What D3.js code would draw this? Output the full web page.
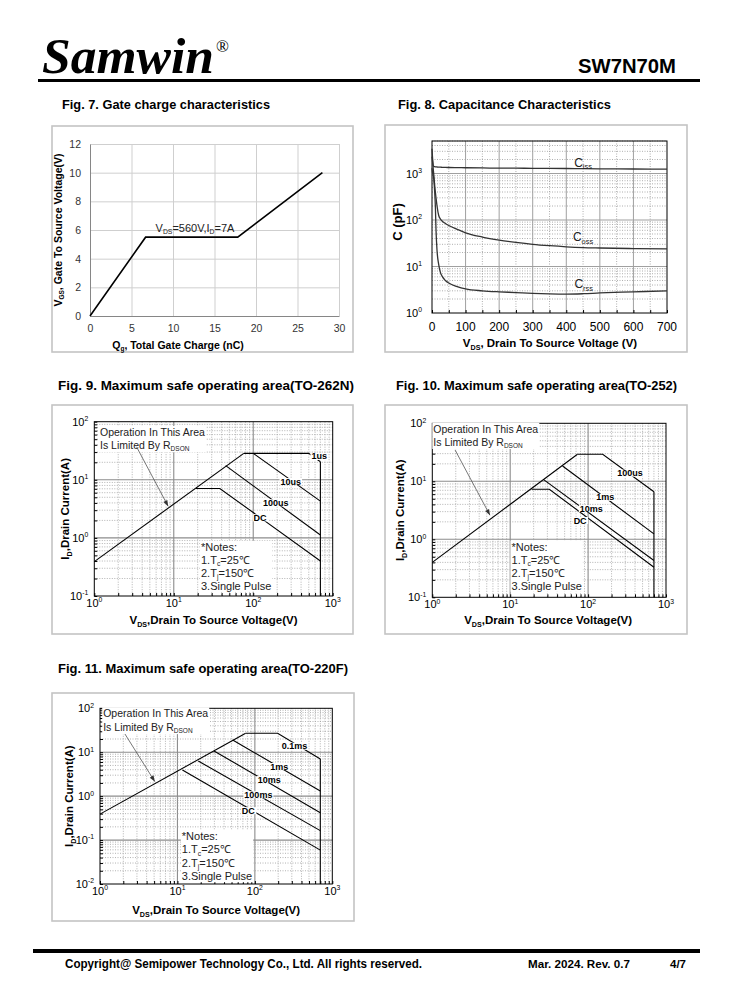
<!DOCTYPE html>
<html>
<head>
<meta charset="utf-8">
<script src="https://cdn.jsdelivr.net/npm/d3@7"></script>
<style>
  body { margin: 0; background: #fff; }
  text { font-family: "Liberation Sans", Arial, sans-serif; }
</style>
</head>
<body>
<script>
// ---- data ----
// Fig 7 gate charge
let qg = [0, 6.7, 17.8, 28];
let vgs = [0, 5.5, 5.5, 10];

// Fig 8 capacitance
let capV = [0, 2, 5, 8, 10, 12, 15, 20, 25, 30, 40, 50, 75, 100, 150, 200, 250, 300, 350, 400, 450, 500, 600, 700];
let ciss = [3400, 2000, 1420, 1400, 1390, 1385, 1380, 1370, 1365, 1360, 1350, 1345, 1335, 1330, 1315, 1305, 1300, 1295, 1290, 1280, 1270, 1260, 1250, 1240];
let coss = [2300, 1700, 1000, 550, 400, 300, 200, 125, 105, 95, 84, 76, 63, 53, 43, 37, 33, 30, 28, 26.5, 25.5, 25, 24.3, 24];
let crss = [1300, 1000, 800, 400, 200, 60, 22, 11, 7.5, 6.2, 5.0, 4.4, 3.7, 3.3, 3.0, 2.85, 2.75, 2.65, 2.58, 2.55, 2.6, 2.7, 2.85, 3.0];

// Fig 9 SOA TO-262N  [VDS, ID]
let f9Rdson = [[1, 0.39], [76, 28.5]];
let f9us1 = [[76, 28.5], [500, 28.5], [700, 20.5]];
let f9us10 = [[100, 28.5], [700, 4.3]];
let f9us100 = [[45, 17.5], [700, 1.12]];
let f9dc = [[19, 7.1], [38, 7.1], [700, 0.4]];
let f9vdss = [[700, 20.5], [700, 0.1]];

// Fig 10 SOA TO-252
let f10Rdson = [[1, 0.40], [73, 29.3]];
let f10us100 = [[73, 29.3], [154, 29.3], [700, 6.6]];
let f10ms1 = [[47, 18.4], [700, 1.24]];
let f10ms10 = [[26.6, 10.8], [700, 0.43]];
let f10dc = [[18.8, 7.3], [31.8, 7.3], [700, 0.33]];
let f10vdss = [[700, 6.6], [700, 0.1]];

// Fig 11 SOA TO-220F
let f11Rdson = [[1, 0.39], [76, 27]];
let f11ms01 = [[76, 27], [197, 27], [700, 7.0]];
let f11ms1 = [[51.7, 19], [700, 1.31]];
let f11ms10 = [[29.7, 10.7], [700, 0.42]];
let f11ms100 = [[18.6, 6.3], [700, 0.164]];
let f11dc = [[11.6, 3.95], [700, 0.059]];
let f11vdss = [[700, 7.0], [700, 0.01]];

// ---- page ----
var svg = d3.select("body").append("svg").attr("width", 738).attr("height", 1000);
svg.append("rect").attr("width", 738).attr("height", 1000).attr("fill", "#fff");

// text with sub / sup parts
function rich(t, parts, fs) {
    var shift = 0;
    parts.forEach(function (p) {
        var k = p[1], target = k === "sub" ? fs * 0.22 : (k === "sup" ? -fs * 0.42 : 0);
        var sp = t.append("tspan").text(p[0]).attr("dy", target - shift);
        if (k) sp.attr("font-size", fs * 0.62);
        shift = target;
    });
    return t;
}
function fitText(x, y, str, len, size, anchor) {
    return svg.append("text").attr("x", x).attr("y", y).attr("font-size", size).attr("font-weight", "bold")
        .attr("text-anchor", anchor || "start").attr("textLength", len).attr("lengthAdjust", "spacingAndGlyphs").text(str);
}
function box(x, y, w, h) {
    svg.append("rect").attr("x", x).attr("y", y).attr("width", w).attr("height", h)
        .attr("fill", "none").attr("stroke", "#c4c4c4").attr("stroke-width", 1.6);
}

// header
svg.append("text").attr("x", 42).attr("y", 73).attr("font-size", 51)
    .attr("font-weight", "bold").attr("font-style", "italic").style("font-family", "'Liberation Serif', serif")
    .attr("textLength", 172).attr("lengthAdjust", "spacingAndGlyphs").text("Samwin");
svg.append("text").attr("x", 216).attr("y", 52).attr("font-size", 17).style("font-family", "'Liberation Serif', serif").text("®");
fitText(578, 73, "SW7N70M", 98, 20);
svg.append("rect").attr("x", 38).attr("y", 79).attr("width", 662).attr("height", 3).attr("fill", "#000");

// footer
svg.append("rect").attr("x", 33).attr("y", 949).attr("width", 667).attr("height", 4).attr("fill", "#000");
fitText(65, 968, "Copyright@ Semipower Technology Co., Ltd. All rights reserved.", 357, 12);
fitText(528, 968, "Mar. 2024. Rev. 0.7", 102, 11);
fitText(670, 968, "4/7", 16, 11);

// titles
fitText(62, 109, "Fig. 7. Gate charge characteristics", 208, 13);
fitText(398, 109, "Fig. 8. Capacitance Characteristics", 213, 13);
fitText(58, 390, "Fig. 9. Maximum safe operating area(TO-262N)", 296, 13);
fitText(396, 390, "Fig. 10. Maximum safe operating area(TO-252)", 281, 13);
fitText(58, 673, "Fig. 11. Maximum safe operating area(TO-220F)", 290, 13);

// ---- Fig 7 ----
box(52, 126, 301, 226);
var x7 = d3.scaleLinear().domain([0, 30]).range([90, 339]);
var y7 = d3.scaleLinear().domain([0, 12]).range([316, 144]);
var g7 = svg.append("g");
g7.append("g").attr("transform", "translate(0,316)")
    .call(d3.axisBottom(x7).ticks(6).tickSize(-172).tickFormat(""))
    .call(g => g.selectAll(".tick line").attr("stroke", "#cfcfcf"))
    .call(g => g.select(".domain").remove());
g7.append("g").attr("transform", "translate(90,0)")
    .call(d3.axisLeft(y7).ticks(6).tickSize(-249).tickFormat(""))
    .call(g => g.selectAll(".tick line").attr("stroke", "#cfcfcf"))
    .call(g => g.select(".domain").remove());
g7.append("g").attr("transform", "translate(0,316)")
    .call(d3.axisBottom(x7).ticks(6).tickSize(0).tickPadding(9).tickSizeOuter(0))
    .call(g => g.select(".domain").attr("stroke", "#868686"))
    .call(g => g.selectAll("text").attr("font-size", 10.5).attr("fill", "#333").style("font-family", "Liberation Sans"));
g7.append("g").attr("transform", "translate(90,0)")
    .call(d3.axisLeft(y7).ticks(6).tickSize(0).tickPadding(9).tickSizeOuter(0))
    .call(g => g.select(".domain").attr("stroke", "#868686"))
    .call(g => g.selectAll("text").attr("font-size", 10.5).attr("fill", "#333").style("font-family", "Liberation Sans"));
g7.append("path").datum(qg.map((q, i) => [q, vgs[i]]))
    .attr("fill", "none").attr("stroke", "#000").attr("stroke-width", 1.6)
    .attr("d", d3.line().x(d => x7(d[0])).y(d => y7(d[1])));
rich(g7.append("text").attr("x", x7(12.65)).attr("y", y7(6.14) + 4).attr("text-anchor", "middle").attr("font-size", 11).attr("fill", "#222"),
    [["V"], ["DS", "sub"], ["=560V,I"], ["D", "sub"], ["=7A"]], 11);
rich(g7.append("text").attr("x", 178).attr("y", 349).attr("text-anchor", "middle").attr("font-size", 10.5).attr("font-weight", "bold"),
    [["Q"], ["g", "sub"], [", Total Gate Charge (nC)"]], 10.5);
rich(g7.append("text").attr("transform", "translate(62,230) rotate(-90)").attr("text-anchor", "middle").attr("font-size", 10.5).attr("font-weight", "bold"),
    [["V"], ["GS", "sub"], [",  Gate To  Source Voltage(V)"]], 10.5);

// ---- Fig 8 ----
box(385, 125, 302, 227);
var x8 = d3.scaleLinear().domain([0, 700]).range([432, 667]);
var y8 = d3.scaleLog().domain([1, 5000]).range([313, 141]);
var g8 = svg.append("g");
var isMaj = v => Math.abs(Math.log10(v) - Math.round(Math.log10(v))) < 1e-9;
var x8t = x8.ticks(14);
g8.selectAll(".vg").data(x8t.slice(1, -1)).join("line")
    .attr("x1", d => x8(d)).attr("x2", d => x8(d)).attr("y1", 141).attr("y2", 313)
    .attr("stroke", d => d % 100 === 0 ? "#a0a0a0" : "#9a9a9a").attr("stroke-width", d => d % 100 === 0 ? 1 : 0.8)
    .attr("stroke-dasharray", d => d % 100 === 0 ? null : "1,1.5");
g8.selectAll(".hg").data(y8.ticks().filter(v => v > 1)).join("line")
    .attr("x1", 432).attr("x2", 667).attr("y1", d => y8(d)).attr("y2", d => y8(d))
    .attr("stroke", d => isMaj(d) ? "#a0a0a0" : "#9a9a9a").attr("stroke-width", d => isMaj(d) ? 1.2 : 0.8)
    .attr("stroke-dasharray", d => isMaj(d) ? null : "1,1.5");
g8.append("g").attr("transform", "translate(0,313)")
    .call(d3.axisBottom(x8).tickValues(x8t).tickSize(-3).tickFormat(""))
    .call(g => g.select(".domain").remove());
g8.append("rect").attr("x", 432).attr("y", 141).attr("width", 235).attr("height", 172)
    .attr("fill", "none").attr("stroke", "#000").attr("stroke-width", 1);
g8.selectAll(".xl").data(x8.ticks(7)).join("text")
    .attr("x", d => x8(d)).attr("y", 331).attr("text-anchor", "middle").attr("font-size", 12).text(d => d);
g8.selectAll(".yl").data(y8.ticks().filter(isMaj)).join("text")
    .attr("x", 422).attr("y", d => y8(d) + 4).attr("text-anchor", "end").attr("font-size", 11)
    .each(function (d) { rich(d3.select(this), [["10"], [String(Math.round(Math.log10(d))), "sup"]], 11); });
var line8 = d3.line().x(d => x8(d[0])).y(d => y8(d[1])).curve(d3.curveMonotoneX);
[ciss, coss, crss].forEach(function (s) {
    g8.append("path").datum(capV.map((v, i) => [v, s[i]]))
        .attr("fill", "none").attr("stroke", "#333").attr("stroke-width", 1.3).attr("d", line8);
});
[["iss", 450, 1720], ["oss", 450, 42.6], ["rss", 452, 4.2]].forEach(function (c) {
    rich(g8.append("text").attr("x", x8(c[1])).attr("y", y8(c[2]) + 4).attr("text-anchor", "middle").attr("font-size", 12).attr("fill", "#222"),
        [["C"], [c[0], "sub"]], 12);
});
rich(g8.append("text").attr("x", 550).attr("y", 347).attr("text-anchor", "middle").attr("font-size", 11.5).attr("font-weight", "bold"),
    [["V"], ["DS", "sub"], [", Drain To Source Voltage (V)"]], 11.5);
g8.append("text").attr("transform", "translate(402,222) rotate(-90)").attr("text-anchor", "middle")
    .attr("font-size", 13).attr("font-weight", "bold").text("C (pF)");

// ---- SOA helper ----
function soa(cfg) {
    var g = svg.append("g");
    var x = d3.scaleLog().domain([1, 1000]).range(cfg.xr);
    var y = d3.scaleLog().domain(cfg.yd).range(cfg.yr);
    var x0 = cfg.xr[0], x1 = cfg.xr[1], yb = cfg.yr[0], yt = cfg.yr[1];
    var xt = x.ticks(), ytk = y.ticks();
    // grid
    g.selectAll(".vg").data(xt.slice(1, -1)).join("line")
        .attr("x1", d => x(d)).attr("x2", d => x(d)).attr("y1", yt).attr("y2", yb)
        .attr("stroke", d => isMaj(d) ? "#8c8c8c" : "#a0a0a0").attr("stroke-width", d => isMaj(d) ? 1.1 : 0.8)
        .attr("stroke-dasharray", d => isMaj(d) ? null : "1,1.5");
    g.selectAll(".hg").data(ytk.slice(1, -1)).join("line")
        .attr("x1", x0).attr("x2", x1).attr("y1", d => y(d)).attr("y2", d => y(d))
        .attr("stroke", d => isMaj(d) ? "#8c8c8c" : "#a0a0a0").attr("stroke-width", d => isMaj(d) ? 1.1 : 0.8)
        .attr("stroke-dasharray", d => isMaj(d) ? null : "1,1.5");
    g.append("g").attr("transform", "translate(0," + yb + ")")
        .call(d3.axisBottom(x).tickValues(xt).tickSize(-3).tickFormat(""))
        .call(s => s.select(".domain").remove());
    g.append("g").attr("transform", "translate(" + x0 + ",0)")
        .call(d3.axisLeft(y).tickValues(ytk).tickSize(-3).tickFormat(""))
        .call(s => s.select(".domain").remove());
    g.append("rect").attr("x", x0).attr("y", yt).attr("width", x1 - x0).attr("height", yb - yt)
        .attr("fill", "none").attr("stroke", "#000").attr("stroke-width", 1);

    // tick labels
    g.selectAll(".xl").data(xt.filter(isMaj)).join("text")
        .attr("x", d => x(d)).attr("y", yb + 11).attr("text-anchor", "middle").attr("font-size", 11)
        .each(function (d) { rich(d3.select(this), [["10"], [String(Math.round(Math.log10(d))), "sup"]], 11); });
    g.selectAll(".yl").data(ytk.filter(isMaj)).join("text")
        .attr("x", x0 - 6).attr("y", d => y(d) + 4).attr("text-anchor", "end").attr("font-size", 11)
        .each(function (d) { rich(d3.select(this), [["10"], [String(Math.round(Math.log10(d))), "sup"]], 11); });

    // text blocks with white background
    function block(px, py, lines, fs) {
        var b = g.append("g");
        lines.forEach(function (ln, i) {
            rich(b.append("text").attr("x", px).attr("y", py + i * cfg.lh).attr("font-size", fs).attr("fill", "#222"), ln, fs);
        });
        var bb = b.node().getBBox();
        b.insert("rect", ":first-child").attr("x", bb.x - 1).attr("y", bb.y).attr("width", bb.width + 2).attr("height", bb.height)
            .attr("fill", "#fff");
    }
    block(x(cfg.op[0]), y(cfg.op[1]), [[["Operation In This Area"]], [["Is Limited By R"], ["DSON", "sub"]]], 10.5);
    block(x(cfg.notes[0]), y(cfg.notes[1]), [[["*Notes:"]], [["1.T"], ["c", "sub"], ["=25℃"]], [["2.T"], ["j", "sub"], ["=150℃"]], [["3.Single Pulse"]]], 11);

    // curves
    var ln = d3.line().x(d => x(d[0])).y(d => y(d[1]));
    cfg.lines.forEach(function (d) {
        g.append("path").datum(d).attr("fill", "none").attr("stroke", "#000").attr("stroke-width", 1.1).attr("d", ln);
    });
    // arrow
    var a0 = [x(cfg.arrow[0][0]), y(cfg.arrow[0][1])], a1 = [x(cfg.arrow[1][0]), y(cfg.arrow[1][1])];
    var ang = Math.atan2(a1[1] - a0[1], a1[0] - a0[0]);
    g.append("line").attr("x1", a0[0]).attr("y1", a0[1]).attr("x2", a1[0]).attr("y2", a1[1]).attr("stroke", "#555").attr("stroke-width", 0.8);
    var hl = 6, hw = 2.2;
    g.append("path").attr("fill", "#333").attr("d",
        "M" + a1[0] + "," + a1[1] +
        "L" + (a1[0] - hl * Math.cos(ang) + hw * Math.sin(ang)) + "," + (a1[1] - hl * Math.sin(ang) - hw * Math.cos(ang)) +
        "L" + (a1[0] - hl * Math.cos(ang) - hw * Math.sin(ang)) + "," + (a1[1] - hl * Math.sin(ang) + hw * Math.cos(ang)) + "Z");

    // curve labels
    cfg.labels.forEach(function (l) {
        var t = g.append("text").attr("x", x(l[1])).attr("y", y(l[2]) + 3.5).attr("text-anchor", "middle")
            .attr("font-size", 9).attr("font-weight", "bold").text(l[0]);
        var bb = t.node().getBBox();
        g.insert("rect", function () { return t.node(); }).attr("x", bb.x - 1).attr("y", bb.y + 1.5).attr("width", bb.width + 2).attr("height", bb.height - 3).attr("fill", "#fff");
    });

    // axis titles
    rich(g.append("text").attr("x", (x0 + x1) / 2 + cfg.xtOff).attr("y", cfg.xtY).attr("text-anchor", "middle").attr("font-size", 11.5).attr("font-weight", "bold"),
        [["V"], ["DS", "sub"], [",Drain To Source Voltage(V)"]], 11.5);
    rich(g.append("text").attr("transform", "translate(" + cfg.ytX + "," + (yb + yt) / 2 + ") rotate(-90)").attr("text-anchor", "middle")
        .attr("font-size", 11.5).attr("font-weight", "bold"),
        [["I"], ["D", "sub"], [",Drain Current(A)"]], 11.5);
}

// ---- Fig 9 ----
box(52, 405, 301, 229);
soa({
    xr: [94.3, 332.7], yd: [0.1, 100], yr: [596, 421.7], lh: 13,
    op: [1.18, 56.8], notes: [22, 0.6],
    lines: [f9Rdson, f9us1, f9us10, f9us100, f9dc, f9vdss],
    arrow: [[3.4, 37], [8.5, 3.5]],
    labels: [["1us", 676, 25.7], ["10us", 297, 9.5], ["100us", 192, 4.1], ["DC", 122, 2.26]],
    xtOff: 0, xtY: 624, ytX: 69
});

// ---- Fig 10 ----
box(385, 405, 302, 229);
soa({
    xr: [432.3, 666], yd: [0.1, 100], yr: [597.3, 423.3], lh: 13,
    op: [1.03, 68.9], notes: [10.4, 0.635],
    lines: [f10Rdson, f10us100, f10ms1, f10ms10, f10dc, f10vdss],
    arrow: [[1.96, 34.7], [5.5, 2.6]],
    labels: [["100us", 345, 14.1], ["1ms", 166, 5.4], ["10ms", 110, 3.45], ["DC", 79, 2.15]],
    xtOff: -1, xtY: 624, ytX: 404
});

// ---- Fig 11 ----
box(52, 693, 302, 228);
soa({
    xr: [100, 332.3], yd: [0.01, 100], yr: [884, 708.3], lh: 13.5,
    op: [1.10, 62.4], notes: [11.4, 0.102],
    lines: [f11Rdson, f11ms01, f11ms1, f11ms10, f11ms100, f11dc, f11vdss],
    arrow: [[2.1, 26], [5.1, 2.15]],
    labels: [["0.1ms", 324, 14.1], ["1ms", 207, 4.85], ["10ms", 154, 2.45], ["100ms", 111, 1.1], ["DC", 82.4, 0.48]],
    xtOff: 0, xtY: 914, ytX: 73
});
</script>
</body>
</html>
